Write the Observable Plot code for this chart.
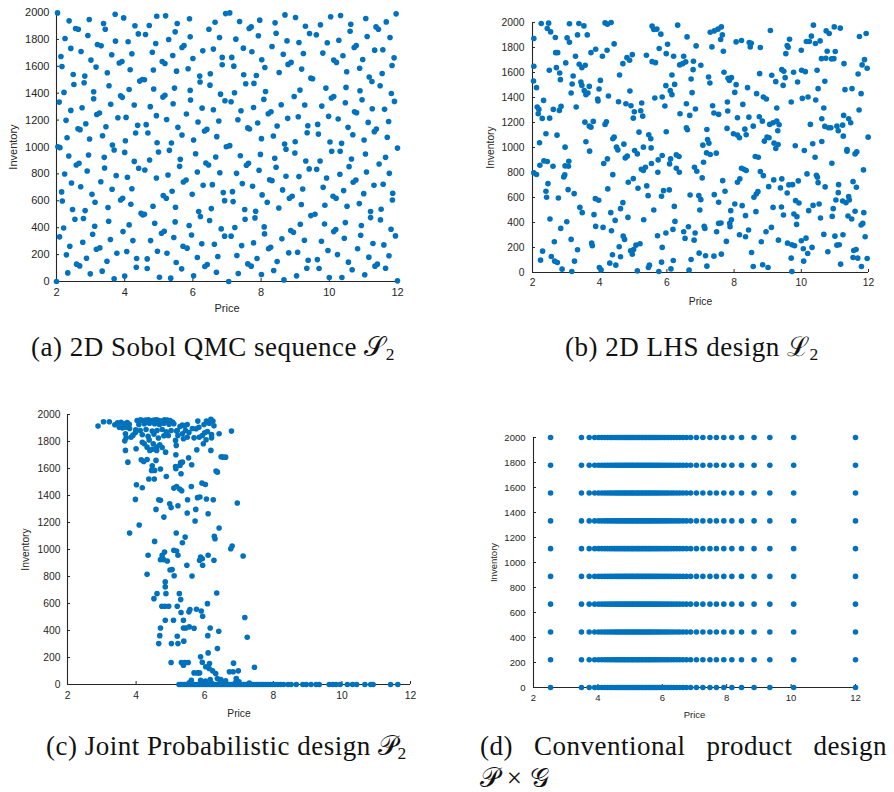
<!DOCTYPE html>
<html><head><meta charset="utf-8">
<script src="https://cdn.jsdelivr.net/npm/d3@7"></script>
<script src="https://cdn.jsdelivr.net/npm/@observablehq/plot@0.6"></script>
<style>
body{margin:0;background:#fff;}
#root{position:relative;width:894px;height:792px;overflow:hidden;background:#fff;}
.panel{position:absolute;}
.cap{position:absolute;font-family:"Liberation Serif","DejaVu Serif",serif;font-size:27px;line-height:28px;letter-spacing:0.5px;color:#111;white-space:nowrap;}
.cap sub{font-size:65%;vertical-align:-0.25em;line-height:0;}
</style></head><body><div id="root"></div>
<script>
// ---------- data ----------
const xTicks = [2, 4, 6, 8, 10, 12];
const yTicks = [0, 200, 400, 600, 800, 1000, 1200, 1400, 1600, 1800, 2000];
const priceDomain = [2, 12];
const inventoryDomain = [0, 2000];

// (a) 2D Sobol QMC sequence  [price, inventory]
const sobol = [
[2.03,1997],[2.37,1938],[2.96,1948],[3.38,1918],[3.72,1987],[3.97,1960],[4.30,1901],[4.72,1903],[4.40,1841],[4.61,1836],[4.94,1972],[5.20,1975],[5.54,1918],[5.48,1856],[5.90,1953],[6.65,1928],[6.47,1876],[6.78,1814],[6.96,1992],[7.08,1997],
[2.25,1807],[2.56,1881],[2.64,1876],[2.42,1733],[2.92,1829],[3.43,1876],[2.72,1710],[2.13,1673],[2.16,1599],[3.01,1646],[3.16,1594],[3.20,1762],[3.31,1752],[3.73,1787],[4.10,1782],[4.21,1693],[3.84,1624],[3.92,1636],[3.62,1686],[4.16,1574],[3.49,1552],[2.49,1539],[2.51,1465],[2.83,1527],[2.81,1478],[2.22,1406],[2.08,1334],
[5.29,1799],[4.91,1770],[4.81,1705],[4.84,1572],[5.10,1636],[5.18,1621],[5.41,1680],[5.74,1755],[5.68,1740],[5.52,1564],[5.86,1582],[5.92,1819],[6.29,1715],[6.60,1728],[6.00,1658],[6.20,1527],[6.21,1483],[6.51,1545],[6.50,1460],[6.86,1666],[6.86,1611],[6.81,1393],[6.94,1344],
[4.44,1490],[4.52,1502],[4.58,1500],[4.85,1431],[5.12,1371],[5.18,1384],[5.46,1438],[5.42,1322],[4.75,1300],[4.28,1312],[4.13,1428],[3.88,1381],[3.93,1369],[3.54,1455],[3.59,1317],[3.09,1411],[3.09,1359],[2.75,1292],[2.42,1272],[2.28,1198],[2.86,1173],[3.18,1242],[3.26,1252],[3.45,1151],[3.80,1218],[4.04,1220],[4.38,1161],[4.63,1166],[4.93,1233],[5.23,1205],[5.56,1146],[5.81,1245],[5.92,1421],[5.93,1349],[6.15,1186],[6.27,1289],[6.60,1277],[6.76,1193],[6.34,1119],[6.41,1131],[6.70,1077],[6.98,1002],[7.08,1010],
[2.63,1136],[2.69,1129],[2.31,1069],[2.97,1059],[3.35,1084],[2.04,1002],[2.10,995],[2.36,933],[2.94,940],[3.40,923],[3.41,844],[2.58,866],[2.66,879],[2.24,799],[2.90,822],[2.44,732],[2.71,705],[2.15,666],[2.17,599],[3.04,648],[3.13,589],[3.30,742],[3.63,686],[3.75,787],[3.64,1015],[3.69,978],[4.00,960],[4.02,1047],[4.32,1104],[4.68,1104],[4.28,893],[4.41,842],[4.59,829],[4.73,903],[4.95,1032],[4.99,963],[5.31,975],[5.37,1030],[4.93,770],[5.27,792],[5.39,671],[5.72,740],[5.80,755],[5.63,908],[5.61,856],[5.68,1089],[6.08,950],[6.02,1052],[6.13,814],[6.38,881],[6.46,866],[6.67,926],[6.79,809],[6.89,661],[6.30,715],[6.57,720],[5.98,648],[6.93,601],
[4.08,775],[4.21,690],[3.88,606],[3.94,619],[4.18,574],[3.51,550],[3.53,448],[2.47,535],[2.54,463],[2.79,468],[2.84,527],[2.21,398],[2.09,332],[3.12,411],[3.06,351],[2.77,292],[2.39,262],[2.29,198],[2.88,173],[2.59,129],[2.68,116],[2.33,64],[2.99,57],[3.17,240],[3.27,250],[3.48,151],[3.34,77],[3.58,312],[3.69,20],[3.77,210],[3.95,371],[4.13,421],[4.24,304],[4.06,223],[4.00,40],[4.35,171],[4.34,106],[4.48,507],[4.53,495],[4.58,500],[4.83,559],[4.76,304],[4.88,433],[4.96,225],[4.66,97],[4.66,168],[5.02,32],[5.08,359],[5.16,374],[5.13,639],[5.22,619],[5.44,327],[5.48,443],[5.49,552],[5.24,210],[5.35,25],[5.51,141],[5.67,94],[5.71,262],[5.83,248],[5.89,416],[5.96,346],[6.02,42],[6.13,178],[6.17,520],[6.22,483],[6.26,280],[6.35,111],[6.42,126],[6.49,453],[6.54,542],[6.63,277],[6.69,69],[6.73,186],[6.83,391],[6.93,337],[7.05,0],[2.00,0],
[7.37,1933],[7.65,1881],[7.71,1893],[7.96,1943],[7.92,1827],[8.41,1923],[8.44,1846],[8.70,1982],[9.01,1963],[9.30,1898],[9.42,1844],[9.62,1834],[9.74,1908],[10.04,1968],[10.33,1978],[10.63,1913],[10.61,1861],[11.07,1955],[11.37,1893],[11.44,1876],[11.67,1930],[11.96,1990],
[7.26,1802],[7.48,1735],[7.73,1708],[8.32,1747],[8.76,1789],[9.11,1777],[9.24,1695],[8.65,1690],[8.02,1648],[8.11,1591],[8.53,1554],[8.79,1614],[8.88,1629],[9.19,1579],[9.81,1698],[9.94,1775],[10.28,1794],[10.40,1678],[10.13,1646],[10.21,1629],[10.51,1559],[10.73,1740],[10.79,1755],[10.89,1586],[10.98,1651],[11.11,1822],[11.33,1720],[11.57,1723],[11.78,1814],[11.90,1663],[11.84,1606],[11.55,1547],[11.17,1520],[11.25,1487],[11.49,1455],[11.82,1398],[11.91,1339],
[7.14,1666],[7.20,1601],[7.49,1537],[7.55,1470],[7.79,1473],[7.86,1532],[7.12,1336],[7.22,1403],[7.41,1270],[7.78,1294],[7.32,1203],[7.66,1134],[7.61,1142],[7.90,1178],[8.13,1413],[8.08,1354],[8.21,1247],[8.29,1262],[8.47,1156],[8.36,1082],[8.01,1062],[8.59,1314],[8.78,1213],[8.97,1376],[9.14,1423],[9.28,1312],[9.09,1225],[9.51,1507],[9.46,1512],[9.37,1158],[9.35,1106],[9.66,1168],[9.68,1096],[9.78,1304],[9.90,1438],[10.06,1364],[10.13,1376],[9.98,1228],[10.26,1208],[10.47,1329],[10.49,1443],[10.55,1146],[10.69,1091],[10.74,1262],[10.80,1255],[10.90,1418],[10.96,1351],[11.14,1183],[11.02,1052],[11.26,1284],[11.32,1114],[11.38,1133],[11.62,1280],[11.74,1190],[11.70,1072],[12.00,992],
[10.02,1037],[10.07,968],[10.32,968],[10.36,1027],[9.00,1039],[8.99,955],[8.69,1022],[8.73,983],[8.40,916],[8.44,849],[7.98,945],[7.39,935],[7.57,864],[7.63,879],[7.94,827],[7.28,804],[7.45,728],[7.75,708],[7.16,668],[7.18,594],[7.52,535],[7.53,463],[7.84,522],[7.82,473],[8.03,644],[8.18,589],[8.63,681],[8.83,619],[8.91,634],[8.52,547],[8.25,757],[8.32,750],[8.73,782],[9.11,780],[9.22,688],[9.18,572],[9.31,896],[9.41,837],[9.63,834],[9.73,896],[9.92,770],[9.82,700],[9.87,567],[9.46,490],[9.58,500],[10.11,634],[10.20,619],[10.31,797],[10.42,676],[10.52,559],[10.58,854],[10.65,911],[10.70,738],[10.78,755],[10.88,579],[11.01,653],[11.06,948],[11.09,814],[11.31,715],[11.46,874],[11.65,923],[11.76,804],[11.86,656],[11.85,606],[11.58,723],[11.21,520],[11.21,475],[11.52,537],[11.50,458],[11.81,389],[11.94,339],
[10.94,416],[10.92,344],[10.47,438],[10.44,322],[10.13,371],[10.19,386],[9.86,428],[9.77,299],[9.96,230],[10.24,200],[10.37,30],[10.00,30],[10.56,144],[10.67,87],[10.83,243],[11.16,181],[11.04,50],[11.28,282],[11.34,114],[11.41,129],[11.60,272],[11.75,191],[11.65,99],[12.00,5],[9.15,426],[8.87,379],[8.95,366],[8.61,317],[8.81,213],[9.07,218],[9.27,307],[9.38,158],[9.34,99],[9.65,163],[9.70,97],[9.04,42],[8.67,12],[8.37,82],[8.47,148],[8.22,243],[8.28,255],[8.09,406],[8.10,354],[7.78,287],[7.43,267],[7.23,401],[7.12,337],[7.29,193],[7.61,131],[7.71,114],[7.88,171],[8.01,52],[7.33,59]
];

// (b) 2D LHS design  [price, inventory]
const lhs = [
[2.04,1872],[2.26,1992],[2.48,1995],[2.44,1952],[2.54,1925],[2.68,1880],[2.69,1759],[2.75,1759],[2.50,1618],[2.71,1639],[2.81,1596],[2.83,1543],[3.10,1990],[3.03,1877],[3.10,1842],[3.28,1730],[2.99,1677],[3.21,1572],[3.18,1508],[3.15,1436],[3.30,1324],[3.38,1992],[3.53,1973],[3.34,1901],[3.63,1901],[3.39,1666],[3.47,1639],[3.57,1658],[3.44,1524],[3.47,1497],[3.54,1455],[3.59,1423],[3.65,1436],[3.69,1489],[3.74,1759],[3.88,1786],[4.02,1537],[3.98,1468],[3.94,1388],[3.95,1372],[4.16,1997],[4.23,1987],[4.34,2000],[4.43,1829],[4.22,1778],[4.08,1730],[4.26,1412],[4.56,1366],[4.69,1671],[4.59,1580],[4.81,1719],[4.89,1698],[4.97,1743],[4.90,1452],[4.78,1350],[4.93,1334],[5.03,1286],[5.00,1235],[5.25,1356],[5.22,1294],[5.28,1251],[5.39,1738],[5.56,1971],[5.61,1944],[5.70,1947],[5.82,1907],[5.77,1792],[5.56,1687],[5.66,1679],[5.64,1396],[6.02,1826],[5.98,1751],[6.32,1979],[6.15,1580],[5.97,1495],[6.10,1455],[6.15,1423],[6.23,1505],[5.86,1404],[5.94,1332],[6.39,1270],[5.98,1126],[6.38,1661],[6.20,1730],
[3.56,1203],[3.81,1209],[3.69,1171],[3.74,1163],[3.59,1046],[3.70,971],[4.20,1206],[4.16,1185],[4.39,1070],[4.43,1083],[4.50,1003],[4.54,981],[4.72,1027],[4.76,917],[4.82,931],[5.04,976],[5.12,949],[5.17,1123],[5.46,1102],[5.52,1070],[5.53,997],[5.30,1003],[5.24,826],[5.30,816],[5.36,842],[5.54,872],[5.74,901],[5.86,936],[6.11,909],[6.28,941],[6.36,928],[6.28,834],[6.37,802],[6.08,869],[5.73,802],[5.84,610],[5.90,655],[6.07,661],[6.22,529],[5.40,693],[5.44,615],[5.14,674],[4.85,722],[5.00,751],[5.61,500],[5.31,422],[4.69,559],[4.62,511],[4.84,441],[4.33,479],[4.46,417],[4.39,783],[4.12,872],[4.23,909],[4.24,669],[4.10,361],[4.35,334],[3.87,591],[3.97,578],[3.83,463],[3.88,369],[3.76,235],[3.78,214],[3.41,521],[3.48,479],[3.34,182],[3.25,91],[3.15,265],[3.17,8],[3.02,406],[3.24,631],[3.06,663],[2.93,765],[2.96,781],[3.07,850],[2.97,853],[3.08,890],[2.97,1003],[2.73,1099],[2.40,1110],[2.80,1297],[2.85,1329],[2.62,1305],[2.51,1235],[2.29,1233],[2.14,1324],[2.19,1305],[2.17,1270],[2.12,1479],[2.03,1532],[2.33,1377],[2.04,1650],[2.21,1038],[2.04,797],[2.12,784],[2.22,858],[2.34,893],[2.44,888],[2.61,850],[2.46,711],[2.40,650],[2.42,602],[2.77,596],[2.52,428],[2.84,353],[2.65,246],[2.56,128],[2.66,91],[2.74,80],[2.24,99],[2.30,171],[2.88,27],[3.99,40],[4.04,21],[4.30,75],[4.38,142],[4.48,59],[4.58,206],[4.62,126],[4.70,291],[4.74,265],[4.92,174],[5.01,184],[4.97,147],[5.08,219],[5.20,230],[5.12,13],[5.45,40],[5.48,59],[5.72,294],[5.86,201],[5.76,8],[5.84,83],[5.97,316],[6.18,345],[6.12,29],[6.19,96],[6.24,409],
[6.60,1885],[6.50,1730],[6.47,1671],[6.56,1685],[6.87,1813],[6.79,1690],[7.01,1658],[6.72,1548],[6.78,1623],[6.75,1439],[6.58,1350],[6.85,1308],[6.68,1257],[6.58,1158],[6.61,1142],[6.82,842],[6.89,810],[7.05,757],[7.09,882],[7.07,1019],[7.18,957],[7.29,944],[7.25,1035],[7.21,1064],[7.19,1144],[7.47,955],[7.66,735],[7.73,650],[7.41,623],[7.54,562],[6.95,615],[7.01,583],[6.69,620],[6.98,500],[7.11,369],[7.13,353],[6.50,326],[6.54,273],[6.84,316],[6.81,259],[6.64,366],[6.72,104],[6.96,155],[7.15,134],[7.19,51],[7.40,131],[7.62,147],[6.66,19],[7.48,326],[7.54,393],[7.61,396],[7.77,249],[7.87,393],[7.92,422],[7.88,366],[8.02,548],[7.90,495],[8.16,302],[8.24,535],[8.34,455],[8.34,286],[8.43,340],[8.52,160],[8.57,48],[8.65,487],[8.59,602],[8.66,628],[8.71,647],[8.81,246],[8.85,62],[9.01,40],[8.95,326],[9.11,361],[9.03,687],[9.18,741],[9.38,677],[9.42,749],[9.16,521],[9.41,524],[9.47,460],[9.32,259],[9.59,235],[9.72,222],[9.70,115],[9.72,8],[9.58,636],[9.63,701],[9.74,703],[9.83,575],[9.93,556],[9.91,733],[9.78,468],[9.87,447],[9.86,385],[9.80,214],[10.00,254],[10.14,275],[10.06,190],[10.19,152],[10.07,91],[10.32,201],[10.22,495],[10.35,537],[10.53,548],[10.57,436],[10.67,305],[10.79,166],[11.00,291],[10.92,449],[10.95,511],[11.03,580],[11.06,219],[11.13,222],[11.17,67],[11.24,302],[11.23,572],[11.33,559],[11.43,580],[11.10,639],[11.11,703],[11.41,607],[11.39,452],[11.50,428],[11.56,176],[11.63,184],[11.54,120],[11.68,115],[11.79,48],[11.96,112],[11.90,286],[11.78,380],[11.83,393],[11.86,479],[11.60,490],[11.64,682],[11.54,727],[11.85,821],[11.65,965],[11.60,949],[11.36,984],[11.36,971],[11.25,1091],[11.10,1134],[11.06,1171],[11.23,1179],[11.26,1257],[11.41,1230],[11.47,1198],[11.72,1300],[11.99,1083],[11.78,1431],[11.51,1471],[11.30,1463],[11.69,1588],[11.81,1661],[11.88,1703],[11.96,1634],[11.27,1671],[11.73,1888],[11.93,1912],[11.16,1955],[10.98,1965],[10.74,1933],[10.83,1912],[10.77,1770],[10.73,1714],[10.90,1709],[10.97,1711],[11.01,1768],[10.60,1711],[10.56,1853],[10.36,1979],[10.30,1891],[10.15,1848],[10.24,1848],[10.42,1832],[10.00,1778],[10.70,1530],[10.47,1618],[10.50,1471],[10.43,1380],[10.20,1404],[10.03,1393],[10.67,1316],[10.61,1230],[10.70,1169],[10.81,1158],[10.88,1158],[10.27,1185],[10.34,1030],[10.41,922],[10.61,1048],[10.91,874],[10.45,778],[10.48,762],[10.50,719],[10.71,685],[10.17,789],[10.09,976],[9.82,1014],[10.01,1618],[10.12,1607],[9.89,1524],[9.77,1602],[9.70,1364],[9.61,1802],[9.54,1751],[9.58,1816],[9.65,1866],[9.42,1623],[9.48,1610],[9.52,1559],[9.46,1497],[9.24,1527],[9.12,1578],[9.08,1936],[8.76,1591],[8.78,1800],[8.51,1834],[8.48,1805],[8.45,1840],[8.06,1845],[8.22,1856],[8.40,1479],[8.26,1345],[8.06,1503],[8.02,1441],[7.82,1554],[7.92,1559],[7.86,1537],[7.70,1602],[7.80,1364],[7.81,1292],[8.10,1238],[8.44,1243],[8.57,1171],[8.75,1246],[8.84,1211],[8.87,1404],[8.96,1388],[8.67,1431],[9.27,1316],[9.06,1185],[9.16,1198],[9.27,1211],[9.34,1182],[9.30,1134],[9.19,1035],[9.24,992],[9.31,1024],[8.98,1083],[9.04,1078],[8.90,1051],[8.63,928],[8.72,922],[8.78,808],[8.87,775],[8.22,834],[8.29,826],[8.36,816],[8.10,722],[8.17,749],[7.79,1153],[7.98,1110],[8.10,1099],[8.16,1078],[8.36,1102],[8.32,1147],[7.28,1516],[7.24,1564],[7.36,1334],[7.40,1276],[7.54,1265],[7.29,1922],[7.41,1933],[7.52,1947],[7.62,1965],[7.65,1901],[7.60,1864],[7.34,1805],[7.68,1770]
];

// (c) Joint probabilistic design  [price, inventory]
const joint = [
[2.89,1914],[3.05,1946],[3.22,1946],[3.38,1924],[3.46,1938],[3.56,1943],[3.66,1931],[3.74,1941],[3.80,1928],[3.51,1906],[3.60,1901],[3.68,1906],[3.81,1896],[3.69,1857],[3.71,1827],[3.85,1832],[3.67,1805],[3.91,1847],[3.98,1867],
[4.03,1956],[4.13,1960],[4.20,1955],[4.28,1958],[4.36,1960],[4.44,1954],[4.52,1958],[4.60,1960],[4.67,1956],[4.75,1952],[4.83,1960],[4.91,1958],[4.99,1955],[5.06,1945],
[4.08,1926],[4.24,1931],[4.39,1936],[4.54,1931],[4.68,1926],[4.81,1936],[4.96,1928],[5.10,1931],
[3.99,1886],[4.12,1881],[4.29,1889],[4.47,1877],[4.61,1881],[4.76,1889],[4.88,1872],[5.02,1881],[5.18,1877],
[4.18,1850],[4.35,1838],[4.52,1855],[4.65,1826],[4.81,1843],[4.94,1845],
[4.18,1795],[4.24,1783],[4.38,1812],[4.50,1783],[4.59,1758],[4.69,1776],[4.76,1756],[4.32,1758],[4.47,1743],[4.60,1734],[4.40,1734],
[5.20,1882],[5.28,1911],[5.35,1921],[5.41,1914],[5.49,1926],[5.22,1845],[5.35,1857],[5.44,1882],[5.54,1867],[5.64,1896],[5.75,1894],[5.83,1906],[5.38,1820],[5.49,1832],[5.69,1827],[5.84,1832],[5.93,1845],[5.80,1951],[6.05,1951],[6.18,1965],[6.24,1951],[5.98,1926],[6.13,1936],[6.27,1916],[6.00,1864],[6.08,1874],[6.20,1852],
[5.53,1679],[5.77,1738],[5.96,1783],[6.04,1813],[6.18,1734],[6.20,1827],[6.42,1857],[6.48,1687],[6.54,1684],[6.61,1684],[6.37,1573],[6.33,1581],[5.62,1628],[5.15,1808],[5.17,1771],[5.16,1702],[5.16,1598],[5.15,1615],[5.28,1623],[5.30,1645],[5.35,1647],[5.31,1561],[4.86,1721],[4.58,1660],[4.15,1665],[4.22,1652],[4.32,1667],[4.47,1620],[4.45,1586],[4.54,1586],[4.37,1522],[4.53,1522],[4.71,1596],[4.88,1541],[3.76,1647],[3.69,1734],[4.00,1746],
[4.01,1480],[4.18,1457],[3.98,1371],[3.81,1122],[4.09,1181],[4.58,1297],[4.66,1369],[4.71,1364],[4.81,1240],[4.98,1339],[5.02,1310],[5.22,1324],[5.10,1455],[5.18,1467],[5.27,1448],[5.33,1435],[5.61,1467],[5.50,1369],[5.49,1270],[5.74,1297],[5.79,1384],[5.86,1389],[5.92,1492],[6.02,1482],[6.05,1374],[6.10,1265],[6.25,1369],[5.72,1211],[6.42,1159],[6.28,1097],[6.30,1080],[5.17,1122],[5.43,1092],[5.35,1050],[4.54,1060],
[4.35,957],[4.76,957],[4.83,981],[4.71,925],[4.80,925],[4.91,915],[5.10,994],[5.18,989],[5.22,957],[5.05,851],[4.99,848],[5.11,806],[5.48,883],[5.63,804],[5.88,944],[5.93,932],[5.85,920],[5.94,883],[6.10,957],[6.27,920],[4.32,816],[4.85,760],[4.85,723],[4.61,673],[4.87,673],[4.52,636],[4.75,580],[4.84,580],[4.95,580],[5.20,580],[5.26,673],[5.30,629],[5.31,533],[5.54,538],[5.57,555],[5.76,557],[6.08,599],[6.35,678],[5.90,545],[5.94,506],[5.09,476],[4.85,476],[5.38,476],[5.38,419],[5.45,419],[5.55,427],[5.69,417],[6.16,419],[6.09,362],[6.41,395],[4.71,419],[4.69,362],[4.66,303],[5.03,303],[5.22,303],[5.20,357],[5.39,321],[6.37,266],[5.02,163],[5.32,163],[5.42,163],[5.52,163],[5.38,143],[5.88,205],[5.93,165],[6.10,234],[6.14,155],[5.69,86],[5.79,86],[5.85,86],[6.03,131],[6.13,118],[6.23,101],[6.32,81],[5.61,32],[5.88,32],[6.02,25],[6.16,37],[6.37,44],[6.47,37],[6.61,27],
[6.78,1877],[6.95,1344],[6.76,1006],[6.80,1026],[7.12,952],[7.17,496],[7.24,350],[7.45,128],[6.84,158],[6.98,101],[6.92,44],[6.72,94],[6.83,94],
[5.55,12],[5.90,15],[6.20,10],[6.45,18],[6.60,8],[6.90,14],[7.00,20],[7.30,10],
[5.25,0],[5.30,0],[5.36,0],[5.41,0],[5.47,0],[5.52,0],[5.58,0],[5.63,0],[5.69,0],[5.74,0],[5.80,0],[5.85,0],[5.91,0],[5.96,0],[6.02,0],[6.07,0],[6.13,0],[6.18,0],[6.24,0],[6.29,0],[6.35,0],[6.40,0],[6.46,0],[6.51,0],[6.57,0],[6.62,0],[6.68,0],[6.73,0],[6.79,0],[6.84,0],[6.90,0],[6.95,0],[7.01,0],[7.06,0],[7.12,0],[7.17,0],[7.23,0],[7.28,0],[7.34,0],[7.40,0],[7.46,0],[7.52,0],[7.58,0],[7.64,0],[7.70,0],[7.77,0],[7.84,0],[7.91,0],[7.98,0],[8.05,0],[8.13,0],[8.21,0],[8.30,0],[8.43,0],[8.52,0],[8.67,0],[8.86,0],[8.96,0],[9.10,0],[9.25,0],[9.34,0],[9.63,0],[9.73,0],[9.83,0],[9.95,0],[10.16,0],[10.31,0],[10.43,0],[10.67,0],[10.84,0],[10.91,0],[11.42,0],[11.63,0]
];

// (d) Conventional product design: price grid x inventory grid
const gridPrice = [2.53,3.49,3.73,3.90,4.02,4.12,4.21,4.29,4.37,4.44,4.51,4.57,4.63,4.69,4.75,4.81,4.86,4.92,4.97,5.03,5.08,5.13,5.19,5.24,5.29,5.35,5.40,5.46,5.51,5.57,5.62,5.68,5.74,5.80,5.86,5.92,5.99,6.06,6.13,6.20,6.28,6.36,6.45,6.54,6.64,6.75,6.88,7.06,7.26,7.48,7.68,7.91,8.16,8.46,8.85,9.34,10.08,12.0];
const gridInventory = [0,222,444,667,889,1111,1333,1556,1778,2000];

// ---------- drawing ----------
const blue = "#0072BD";
const axisColor = "#262626";
const fmt = d3.format("d");
const root = document.getElementById("root");

function panel(points, c) {
  const svg = Plot.plot({
    width: c.w, height: c.h,
    marginLeft: c.fl - c.sx, marginRight: c.sx + c.w - c.fr,
    marginTop: c.ft - c.sy, marginBottom: c.sy + c.h - c.fb,
    x: {domain: priceDomain, label: null},
    y: {domain: inventoryDomain, label: null},
    style: {fontFamily: "'Liberation Sans', Arial, sans-serif", fontSize: c.fs + "px", color: axisColor, background: "transparent", overflow: "visible"},
    marks: [
      Plot.ruleY([inventoryDomain[0]], {stroke: axisColor, strokeWidth: 1.1}),
      Plot.ruleX([priceDomain[0]], {stroke: axisColor, strokeWidth: 1.1}),
      Plot.axisX(xTicks, {tickSize: -3, fill: "none", stroke: axisColor, label: null}),
      Plot.axisY(yTicks, {tickSize: -3, fill: "none", stroke: axisColor, label: null}),
      Plot.axisX(xTicks, {tickSize: 0, tickPadding: c.tpx, fill: axisColor, fontSize: c.fs, tickFormat: fmt,
        label: "Price", labelAnchor: "center", labelArrow: "none", labelOffset: c.lox}),
      Plot.axisY(yTicks, {tickSize: 0, tickPadding: c.tpy, fill: axisColor, fontSize: c.fs, tickFormat: fmt,
        label: "Inventory", labelAnchor: "center", labelArrow: "none", labelOffset: c.loy}),
      Plot.dot(points, {x: d => d[0], y: d => d[1], r: c.r, fill: blue, stroke: "none"})
    ]
  });
  svg.classList.add("panel");
  svg.style.left = c.sx + "px";
  svg.style.top = c.sy + "px";
  root.appendChild(svg);
}

panel(sobol, {sx: 0, sy: 0, w: 430, h: 322, fl: 56, fr: 397, ft: 12, fb: 281, fs: 11, tpx: 7, tpy: 7, lox: 30, loy: 47, r: 2.8});
panel(lhs, {sx: 447, sy: 0, w: 447, h: 322, fl: 532, fr: 868, ft: 22, fb: 272, fs: 10.3, tpx: 6, tpy: 8, lox: 32, loy: 46, r: 2.8});
panel(joint, {sx: 0, sy: 395, w: 440, h: 330, fl: 67, fr: 410, ft: 414, fb: 684, fs: 10.3, tpx: 7, tpy: 7, lox: 32, loy: 46, r: 2.8});
panel(d3.cross(gridPrice, gridInventory), {sx: 447, sy: 410, w: 447, h: 320, fl: 533, fr: 855, ft: 437, fb: 687, fs: 9.5, tpx: 7, tpy: 8, lox: 30, loy: 43, r: 2.8});

// ---------- captions ----------
function caption(html, left, top, extra) {
  const d = document.createElement("div");
  d.className = "cap";
  d.innerHTML = html;
  d.style.left = left + "px";
  d.style.top = top + "px";
  if (extra) Object.assign(d.style, extra);
  root.appendChild(d);
}
caption("(a) 2D Sobol QMC sequence 𝒮<sub>2</sub>", 31, 333);
caption("(b) 2D LHS design ℒ<sub>2</sub>", 565, 333);
caption("(c) Joint Probabilistic design 𝒫<sub>2</sub>", 46, 732);
caption("<span>(d)</span><span>Conventional</span><span>product</span><span>design</span>", 480, 732,
  {display: "flex", justifyContent: "space-between", width: "407px"});
caption("𝒫 × 𝒢", 480, 764);
</script></body></html>
